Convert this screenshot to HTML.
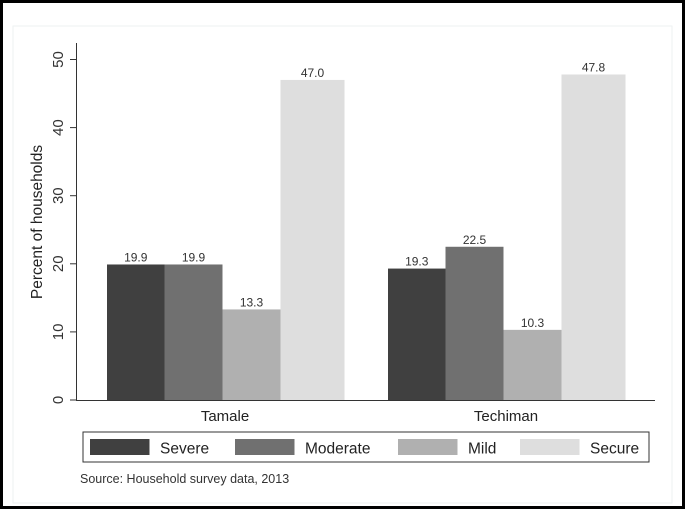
<!DOCTYPE html>
<html><head><meta charset="utf-8"><style>
html,body{margin:0;padding:0;background:#fff}
svg{display:block;font-family:"Liberation Sans",sans-serif}
</style></head><body>
<svg id="chart" width="685" height="509" viewBox="0 0 685 509">
<rect x="1.5" y="1.5" width="682" height="506" fill="#fff" stroke="#000" stroke-width="3"/>
<rect x="13" y="26" width="659" height="477" fill="none" stroke="#eef2f2" stroke-width="1"/>
<g id="axes"></g>
<g id="bars"></g>
<text x="42" y="222" font-size="15.5" fill="#222" text-anchor="middle" transform="rotate(-90 42 222)">Percent of households</text>
<rect x="83" y="432" width="566" height="30" fill="#fff" stroke="#333" stroke-width="1"/>
<g id="legend"></g>
<text x="80" y="483" font-size="12.5" fill="#333">Source: Household survey data, 2013</text>
</svg>
<script>
const categories = ["Tamale", "Techiman"];
const seriesNames = ["Severe", "Moderate", "Mild", "Secure"];
const severe = [19.9, 19.3];
const moderate = [19.9, 22.5];
const mild = [13.3, 10.3];
const secure = [47.0, 47.8];
const yTicks = [0, 10, 20, 30, 40, 50];

const NS = "http://www.w3.org/2000/svg";
const colors = ["#404040", "#707070", "#b0b0b0", "#dedede"];
const y0 = 400, pxPer = 6.81;
function yScale(v){ return y0 - v * pxPer; }
const groupStart = [107, 388];
const barW = [57.5, 58, 58, 64];
const barOff = [0, 57.5, 115.5, 173.5];
function mk(tag, attrs, parent){
  const e = document.createElementNS(NS, tag);
  for (const k in attrs) e.setAttribute(k, attrs[k]);
  parent.appendChild(e);
  return e;
}
const axes = document.getElementById("axes");
const yAxis = mk("line", {x1:76.5, y1:43, x2:76.5, y2:400.5, stroke:"#333", "stroke-width":1}, axes);


const xAxis = mk("line", {x1:76, y1:400.5, x2:655, y2:400.5, stroke:"#333", "stroke-width":1}, axes);


yTicks.forEach(t => {
  const y = yScale(t);
  const tk = mk("line", {x1:70, y1:y, x2:76.5, y2:y, stroke:"#333"}, axes);
  
  
  const lb = mk("text", {x:63, y:y, "font-size":15, fill:"#333", "text-anchor":"middle", transform:`rotate(-90 63 ${y})`}, axes);
  
  
  lb.textContent = t;
});
const bars = document.getElementById("bars");
const series = [severe, moderate, mild, secure];
categories.forEach((c, ci) => {
  series.forEach((s, si) => {
    const v = s[ci];
    const x = groupStart[ci] + barOff[si];
    const r = mk("rect", {x:x, y:yScale(v), width:barW[si], height:y0 - yScale(v), fill:colors[si]}, bars);
    
    
    const t = mk("text", {x:x + barW[si]/2, y:yScale(v) - 3, "font-size":12, fill:"#333", "text-anchor":"middle"}, bars);
    
    
    t.textContent = v.toFixed(1);
  });
  const cl = mk("text", {x:[225, 506][ci], y:421, "font-size":15, fill:"#222", "text-anchor":"middle"}, bars);
  
  
  cl.textContent = c;
});
const legend = document.getElementById("legend");
const swX = [90, 235, 398, 520], txX = [160, 305, 468, 590];
seriesNames.forEach((n, i) => {
  const sw = mk("rect", {x:swX[i], y:439, width:59.5, height:16, fill:colors[i]}, legend);
  
  
  const t = mk("text", {x:txX[i], y:453.5, "font-size":15.5, fill:"#222"}, legend);
  
  
  t.textContent = n;
});
</script>
</body></html>
